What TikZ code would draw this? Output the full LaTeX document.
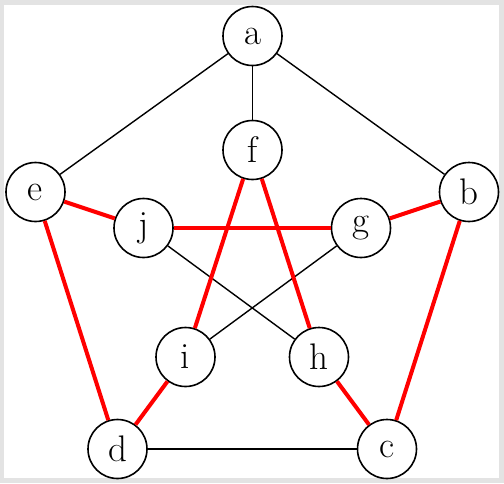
\documentclass[tikz,border=0pt]{standalone}
\begin{document}
\begin{tikzpicture}[x=0.5pt,y=-0.5pt,
  vtx/.style={draw=black,line width=0.8pt,circle,fill=white,minimum size=29.5pt,inner sep=0pt,font=\fontsize{18.5}{22}\selectfont},
  plain/.style={draw=black,line width=0.7pt},
  hot/.style={draw=red,line width=2pt}]
\useasboundingbox (0,0) rectangle (504,483);
\fill[gray!22] (0,0) rectangle (504,483);
\fill[white] (4,5) rectangle (499,478);
\node[vtx] (a) at (252.5,36) {a};
\node[vtx] (f) at (252.5,150) {f};
\node[vtx] (e) at (35.5,192) {e};
\node[vtx] (j) at (143.5,228) {j};
\node[vtx] (g) at (361,228) {g};
\node[vtx] (b) at (469,192) {b};
\node[vtx] (i) at (185.5,357) {i};
\node[vtx] (h) at (319,357) {h};
\node[vtx] (d) at (117.5,449) {d};
\node[vtx] (c) at (387,449) {c};
\draw[plain] (a) -- (e);
\draw[plain] (a) -- (f);
\draw[plain] (a) -- (b);
\draw[plain] (j) -- (h);
\draw[plain] (g) -- (i);
\draw[plain] (d) -- (c);
\draw[hot] (e) -- (j);
\draw[hot] (j) -- (g);
\draw[hot] (g) -- (b);
\draw[hot] (e) -- (d);
\draw[hot] (b) -- (c);
\draw[hot] (f) -- (i);
\draw[hot] (f) -- (h);
\draw[hot] (i) -- (d);
\draw[hot] (h) -- (c);
\end{tikzpicture}
\end{document}
